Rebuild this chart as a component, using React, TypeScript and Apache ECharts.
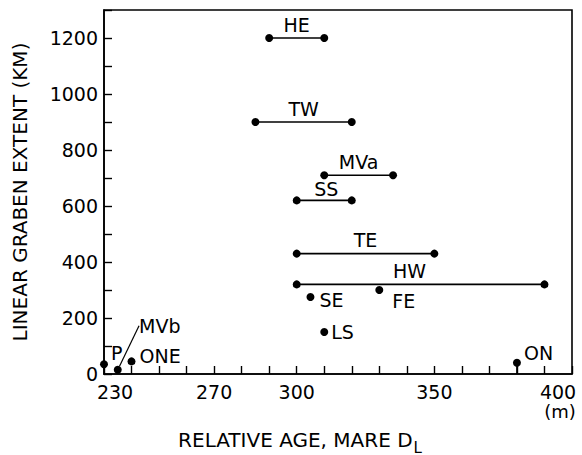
import { useEffect, useRef } from 'react';
import * as echarts from 'echarts';

// Graben ranges (age interval at a given extent)
const rangeNames = ['HE', 'TW', 'MVa', 'SS', 'TE', 'HW'];
const rangeAgeStart = [290, 285, 310, 300, 300, 300];
const rangeAgeEnd = [310, 320, 335, 320, 350, 390];
const rangeExtent = [1200, 900, 710, 620, 430, 320];

// Single points
const pointNames = ['SE', 'FE', 'LS', 'ON', 'P', 'MVb', 'ONE'];
const pointAge = [305, 330, 310, 380, 230, 235, 240];
const pointExtent = [275, 300, 150, 40, 35, 15, 45];

// Tick labels
const xTickLabels = [230, 270, 300, 350, 400];
const yTickLabels = [0, 200, 400, 600, 800, 1000, 1200];

const FONT = 'DejaVu Sans';
const INK = '#000';

const rangeLabelOffset: Record<string, number[]> = {
  HW: [-11, 0],
  SS: [2, 2],
};

// label placement for single points (position + layout shift)
const pointLabelPos: Record<string, { position: string; distance?: number; dx: number; dy: number }> = {
  SE: { position: 'right', distance: 5, dx: 0, dy: 3 },
  FE: { position: 'right', distance: 5, dx: 4, dy: 11 },
  LS: { position: 'right', distance: 3, dx: 0, dy: 0 },
  ON: { position: 'right', distance: 3, dx: 0, dy: -10 },
  P: { position: 'right', distance: 3, dx: 0, dy: -11 },
  MVb: { position: 'inside', dx: 42, dy: -44 },
  ONE: { position: 'right', distance: 4, dx: 0, dy: -5 },
};

export default function App() {
  const ref = useRef<HTMLDivElement>(null);
  useEffect(() => {
    if (!ref.current) return;
    const chart = echarts.init(ref.current, null, { renderer: 'svg' });

    const rangeSeries = rangeNames.map((n, i) => ({
      type: 'line',
      name: n,
      data: [
        [rangeAgeStart[i], rangeExtent[i]],
        [rangeAgeEnd[i], rangeExtent[i]],
      ],
      symbol: 'circle',
      symbolSize: 8,
      showSymbol: true,
      itemStyle: { color: INK, opacity: 1 },
      lineStyle: { color: INK, width: 1.6 },
      silent: true,
      z: 3,
    }));

    const onIdx = pointNames.indexOf('ON');
    const onDrop = {
      type: 'line',
      data: [
        [pointAge[onIdx], 0],
        [pointAge[onIdx], pointExtent[onIdx]],
      ],
      symbol: 'none',
      lineStyle: { color: INK, width: 1.6 },
      silent: true,
      z: 2,
    };

    const rangeLabels = {
      type: 'scatter',
      symbolSize: 0,
      silent: true,
      itemStyle: { color: INK, opacity: 1 },
      data: rangeNames.map((n, i) => ({
        value: [(rangeAgeStart[i] + rangeAgeEnd[i]) / 2, rangeExtent[i]],
        name: n,
        label: {
          show: true,
          position: 'top',
          distance: 4,
          offset: rangeLabelOffset[n] || [0, 0],
          formatter: n,
          fontFamily: FONT,
          fontSize: 19,
          color: INK,
        },
      })),
    };

    const points = {
      type: 'scatter',
      symbol: 'circle',
      symbolSize: 8,
      itemStyle: { color: INK, opacity: 1 },
      silent: true,
      z: 4,
      data: pointNames.map((n, i) => ({
        value: [pointAge[i], pointExtent[i]],
        name: n,
        label: {
          show: true,
          formatter: n,
          fontFamily: FONT,
          fontSize: 19,
          color: INK,
          position: pointLabelPos[n].position,
          distance: pointLabelPos[n].distance ?? 5,
        },
        labelLine: { show: n === 'MVb', lineStyle: { color: INK, width: 1.2 } },
      })),
      labelLine: { show: false },
      labelLayout: (p: any) => {
        const s = pointLabelPos[pointNames[p.dataIndex]];
        return { dx: s.dx, dy: s.dy };
      },
    };

    chart.setOption({
      animation: false,
      backgroundColor: '#fff',
      grid: {
        left: 104,
        right: 10,
        top: 10,
        bottom: 81,
        outerBoundsMode: 'none',
        containLabel: false,
        show: true,
        borderColor: INK,
        borderWidth: 1.6,
        backgroundColor: 'transparent',
      },
      xAxis: {
        type: 'value',
        min: 230,
        max: 400,
        interval: 10,
        name: 'RELATIVE AGE, MARE D{sub|L}',
        nameLocation: 'middle',
        nameGap: 50,
        nameTextStyle: {
          fontFamily: FONT,
          fontSize: 20,
          color: INK,
          padding: [0, 76, 0, 0],
          rich: {
            sub: {
              fontFamily: FONT,
              fontSize: 15,
              color: INK,
              padding: [16, 0, 0, 1],
            },
          },
        },
        axisLine: { show: true, onZero: false, lineStyle: { color: INK, width: 1.6 } },
        axisTick: { show: true, inside: true, length: 8, interval: 0, lineStyle: { color: INK, width: 1.4 } },
        splitLine: { show: false },
        axisLabel: {
          show: true,
          interval: 0,
          showMinLabel: true,
          showMaxLabel: true,
          margin: 7,
          fontFamily: FONT,
          fontSize: 19,
          color: INK,
          lineHeight: 21,
          formatter: (v: number) => {
            if (!xTickLabels.includes(v)) return '';
            if (v === 230) return '{first|' + v + '}';
            if (v === 400) return '{last|' + v + '}\n{unit|(m)}';
            return String(v);
          },
          rich: {
            first: { fontFamily: FONT, fontSize: 19, color: INK, padding: [0, 0, 0, 22], lineHeight: 21 },
            last: { fontFamily: FONT, fontSize: 19, color: INK, padding: [0, 28, 0, 0], lineHeight: 21 },
            unit: { fontFamily: FONT, fontSize: 18, color: INK, padding: [0, 24, 0, 0], lineHeight: 19 },
          },
        },
      },
      yAxis: {
        type: 'value',
        min: 0,
        max: 1300,
        interval: 100,
        name: 'LINEAR GRABEN EXTENT (KM)',
        nameLocation: 'middle',
        nameGap: 74,
        nameRotate: 90,
        nameTextStyle: { fontFamily: FONT, fontSize: 20, color: INK },
        axisLine: { show: true, onZero: false, lineStyle: { color: INK, width: 1.6 } },
        axisTick: { show: true, inside: true, length: 8, interval: 0, lineStyle: { color: INK, width: 1.4 } },
        splitLine: { show: false },
        axisLabel: {
          show: true,
          interval: 0,
          margin: 6,
          fontFamily: FONT,
          fontSize: 19,
          color: INK,
          formatter: (v: number) => (yTickLabels.includes(v) ? String(v) : ''),
        },
      },
      series: [...rangeSeries, onDrop, rangeLabels, points],
    });

    return () => chart.dispose();
  }, []);

  return (
    <div
      ref={ref}
      style={{ position: 'fixed', left: 0, top: 0, width: 582, height: 455, background: '#fff' }}
    />
  );
}
